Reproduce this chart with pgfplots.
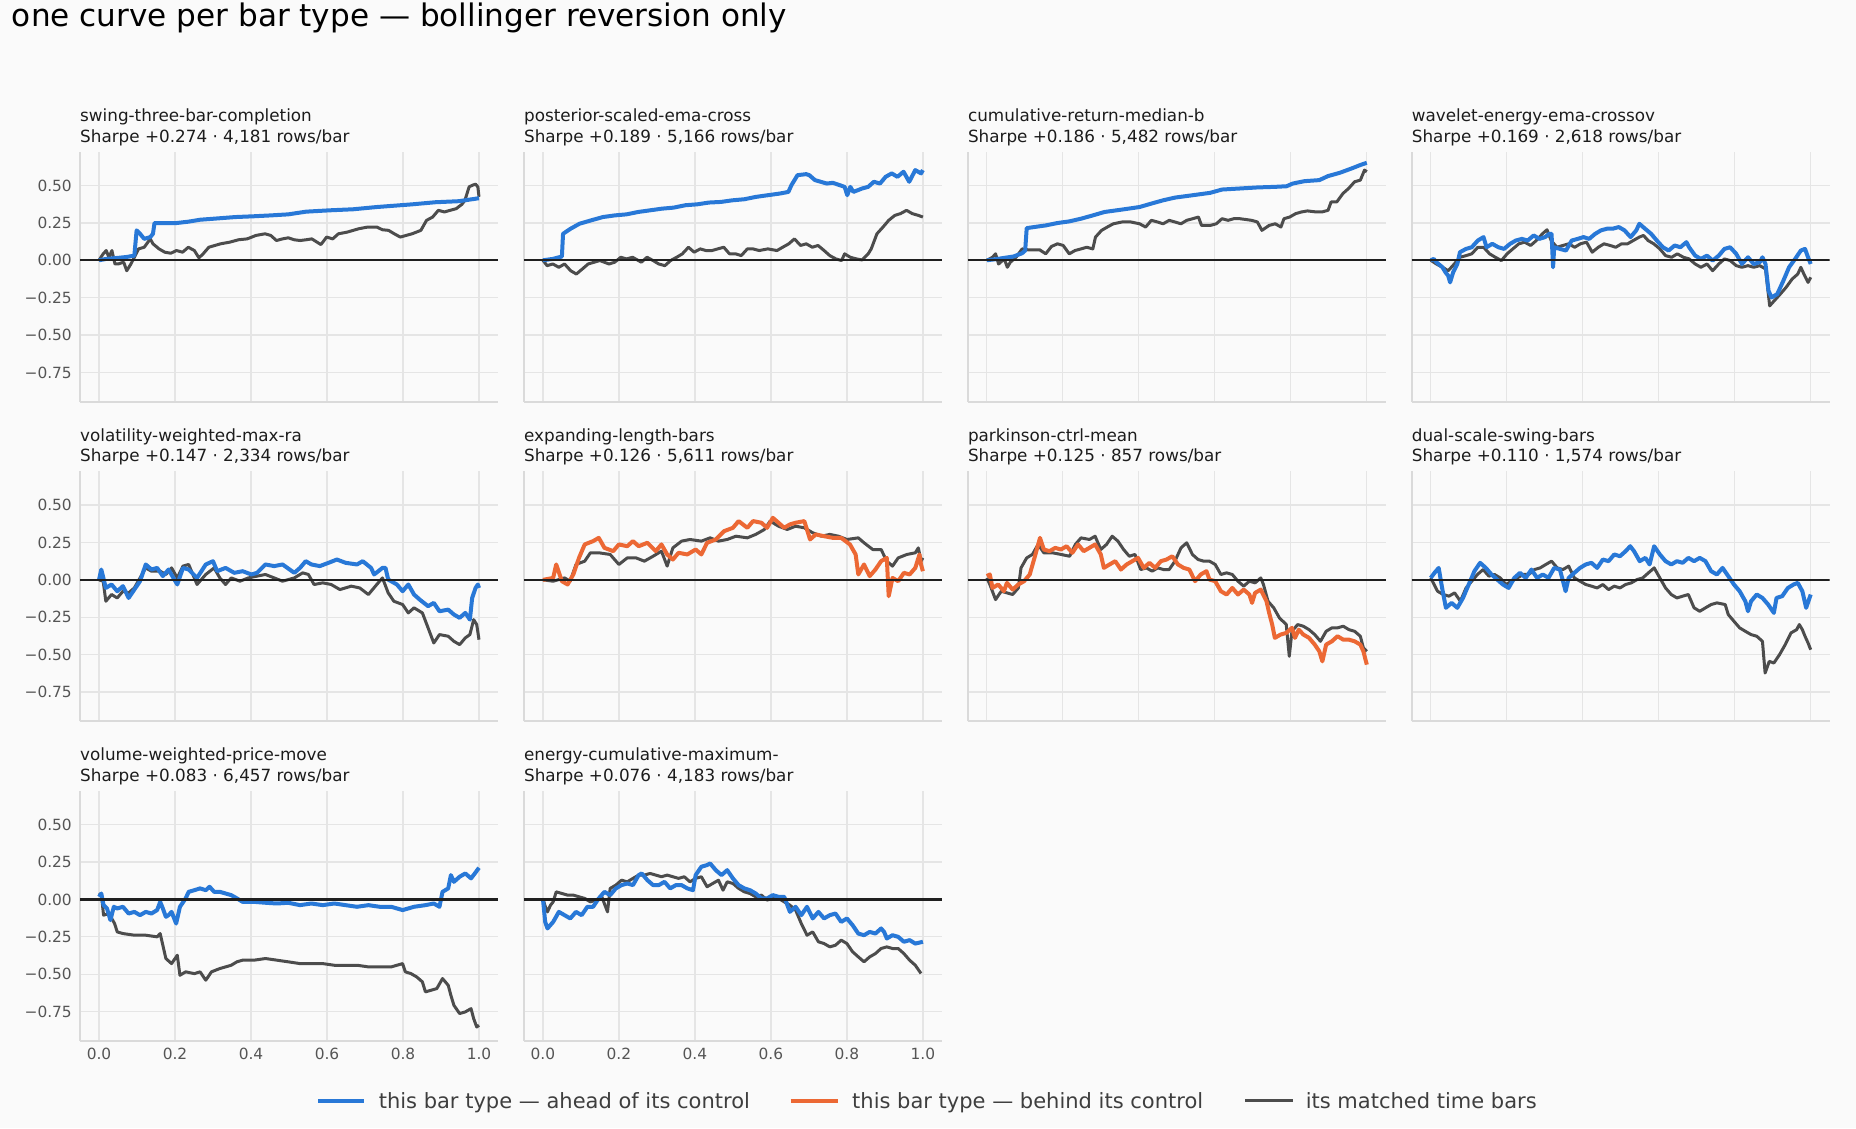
\documentclass[border=0pt]{standalone}
\usepackage{fontspec}
\setmainfont{DejaVu Sans}
\usepackage{pgfplots}
\pgfplotsset{compat=1.18}
\definecolor{bgc}{RGB}{250,250,250}
\definecolor{gridc}{RGB}{229,229,229}
\definecolor{spinec}{RGB}{218,218,218}
\definecolor{tickc}{RGB}{85,85,85}
\definecolor{aheadc}{RGB}{40,120,215}
\definecolor{behindc}{RGB}{236,104,52}
\definecolor{ctrlc}{RGB}{76,76,76}
\definecolor{titlec}{RGB}{28,28,28}
\definecolor{legc}{RGB}{62,62,62}
\pgfplotsset{
 panel/.style={
  scale only axis, width=418pt, height=250pt, anchor=north west,
  xmin=-0.05, xmax=1.05, ymin=-0.946, ymax=0.726,
  xtick={0,0.2,0.4,0.6,0.8,1}, ytick={-0.75,-0.5,-0.25,0,0.25,0.5},
  xticklabels={}, yticklabels={},
  major tick length=0pt, tick style={draw=none},
  xmajorgrids, ymajorgrids,
  major grid style={gridc, line width=1.3pt},
  axis x line*=bottom, axis y line*=left,
  axis line style={-, spinec, line width=1.8pt},
  x axis line style={-}, y axis line style={-},
  tick label style={font=\fontsize{15.4pt}{18pt}\selectfont, text=tickc, inner sep=0pt},
  xticklabel style={anchor=north, yshift=-7pt},
  yticklabel style={anchor=east, xshift=-8pt},
 },
 ylab/.style={yticklabels={−0.75,−0.50,−0.25,0.00,0.25,0.50}},
 xlab/.style={xticklabels={0.0,0.2,0.4,0.6,0.8,1.0}},
 ctrl/.style={ctrlc, line width=3pt, line join=round},
 ahead/.style={aheadc, line width=4pt, line join=round},
 behind/.style={behindc, line width=4pt, line join=round},
 zero/.style={black!88, line width=2.4pt},
}
\newcommand{\ptitle}[4]{%
 \node[anchor=base west, inner sep=0pt, text=titlec, font=\fontsize{16.8pt}{20pt}\selectfont] at (#1pt,{-(#2-30)*1pt}) {#3};
 \node[anchor=base west, inner sep=0pt, text=titlec, font=\fontsize{16.8pt}{20pt}\selectfont] at (#1pt,{-(#2-9.4)*1pt}) {#4};
}
\begin{document}
\begin{tikzpicture}
\useasboundingbox (0,0) rectangle (1856pt,-1128pt);
\fill[bgc] (0,0) rectangle (1856pt,-1128pt);
\node[anchor=base west, inner sep=0pt, text=black, font=\fontsize{31.1pt}{36pt}\selectfont] at (11.8pt,-26pt) {one curve per bar type — bollinger reversion only};

% ---------- panel 1
\begin{axis}[panel, ylab, at={(80pt,-151.7pt)}]
\addplot[ctrl] coordinates {(0,0) (0.011,0.043) (0.019,0.065) (0.026,0.020) (0.034,0.065) (0.042,-0.025) (0.050,-0.025) (0.065,-0.013) (0.073,-0.070) (0.084,-0.025) (0.093,0.020) (0.104,0.076) (0.119,0.087) (0.135,0.143) (0.142,0.110) (0.158,0.076) (0.173,0.054) (0.189,0.047) (0.204,0.065) (0.220,0.054) (0.235,0.087) (0.251,0.065) (0.263,0.016) (0.274,0.043) (0.289,0.087) (0.305,0.099) (0.320,0.110) (0.344,0.121) (0.367,0.137) (0.390,0.143) (0.413,0.166) (0.437,0.177) (0.452,0.166) (0.467,0.132) (0.483,0.143) (0.498,0.150) (0.514,0.137) (0.529,0.132) (0.545,0.137) (0.560,0.143) (0.584,0.105) (0.599,0.155) (0.615,0.143) (0.630,0.177) (0.653,0.188) (0.669,0.200) (0.684,0.211) (0.707,0.222) (0.731,0.222) (0.746,0.204) (0.762,0.200) (0.777,0.177) (0.793,0.155) (0.808,0.166) (0.824,0.177) (0.847,0.200) (0.862,0.267) (0.878,0.289) (0.893,0.334) (0.909,0.323) (0.924,0.334) (0.940,0.345) (0.955,0.374) (0.963,0.401) (0.974,0.491) (0.983,0.502) (0.991,0.509) (0.997,0.491) (1.000,0.424)};
\addplot[ahead] coordinates {(0,0) (0.019,0.009) (0.050,0.016) (0.073,0.022) (0.093,0.031) (0.099,0.200) (0.108,0.177) (0.119,0.143) (0.135,0.155) (0.142,0.177) (0.146,0.249) (0.204,0.249) (0.235,0.258) (0.266,0.271) (0.313,0.280) (0.359,0.289) (0.406,0.294) (0.452,0.300) (0.498,0.307) (0.545,0.325) (0.607,0.334) (0.669,0.341) (0.731,0.356) (0.793,0.368) (0.824,0.374) (0.885,0.388) (0.947,0.395) (1.000,0.415)};
\addplot[zero] coordinates {(-0.05,0) (1.05,0)};
\end{axis}
\ptitle{80}{151.7}{swing-three-bar-completion}{Sharpe +0.274 · 4,181 rows/bar}

% ---------- panel 2
\begin{axis}[panel, at={(523.9pt,-151.7pt)}]
\addplot[ctrl] coordinates {(0,0) (0.011,-0.036) (0.026,-0.025) (0.042,-0.047) (0.057,-0.025) (0.073,-0.070) (0.088,-0.092) (0.104,-0.058) (0.119,-0.025) (0.135,-0.013) (0.150,-0.002) (0.174,-0.025) (0.189,-0.013) (0.205,0.020) (0.220,0.009) (0.236,0.020) (0.259,-0.013) (0.274,0.020) (0.290,-0.002) (0.305,-0.025) (0.321,-0.036) (0.336,-0.002) (0.352,0.020) (0.367,0.043) (0.383,0.087) (0.398,0.054) (0.414,0.076) (0.429,0.065) (0.445,0.065) (0.460,0.076) (0.476,0.087) (0.491,0.043) (0.507,0.043) (0.522,0.031) (0.538,0.076) (0.553,0.076) (0.569,0.065) (0.592,0.076) (0.616,0.065) (0.631,0.087) (0.647,0.110) (0.662,0.143) (0.678,0.099) (0.693,0.110) (0.709,0.087) (0.724,0.099) (0.740,0.065) (0.755,0.031) (0.771,0.009) (0.786,-0.002) (0.794,0.043) (0.809,0.020) (0.825,0.009) (0.840,0.002) (0.856,0.043) (0.864,0.076) (0.879,0.177) (0.895,0.222) (0.910,0.267) (0.926,0.300) (0.941,0.312) (0.957,0.334) (0.972,0.312) (0.988,0.300) (1.000,0.289)};
\addplot[ahead] coordinates {(0,0) (0.026,0.009) (0.050,0.025) (0.053,0.177) (0.073,0.211) (0.096,0.244) (0.127,0.267) (0.158,0.289) (0.189,0.300) (0.220,0.307) (0.251,0.323) (0.282,0.334) (0.313,0.345) (0.344,0.352) (0.375,0.368) (0.406,0.374) (0.437,0.386) (0.468,0.390) (0.499,0.401) (0.530,0.408) (0.561,0.424) (0.592,0.435) (0.623,0.446) (0.646,0.457) (0.654,0.502) (0.670,0.569) (0.693,0.576) (0.701,0.569) (0.716,0.536) (0.747,0.513) (0.763,0.518) (0.794,0.491) (0.801,0.435) (0.809,0.491) (0.817,0.457) (0.840,0.480) (0.856,0.491) (0.871,0.525) (0.887,0.513) (0.902,0.558) (0.918,0.581) (0.933,0.558) (0.949,0.592) (0.964,0.525) (0.980,0.603) (0.995,0.581) (1.000,0.603)};
\addplot[zero] coordinates {(-0.05,0) (1.05,0)};
\end{axis}
\ptitle{523.9}{151.7}{posterior-scaled-ema-cross}{Sharpe +0.189 · 5,166 rows/bar}

% ---------- panel 3
\begin{axis}[panel, at={(967.8pt,-151.7pt)}]
\addplot[ctrl] coordinates {(0,0) (0.015,0.020) (0.023,0.043) (0.031,-0.025) (0.046,0.009) (0.054,-0.047) (0.062,-0.013) (0.077,0.020) (0.093,0.076) (0.108,0.070) (0.139,0.070) (0.155,0.043) (0.170,0.092) (0.186,0.110) (0.201,0.099) (0.217,0.043) (0.232,0.065) (0.248,0.076) (0.263,0.087) (0.279,0.076) (0.286,0.155) (0.302,0.200) (0.317,0.222) (0.333,0.244) (0.356,0.256) (0.379,0.256) (0.402,0.244) (0.418,0.222) (0.433,0.267) (0.449,0.256) (0.464,0.244) (0.480,0.267) (0.495,0.256) (0.511,0.244) (0.526,0.267) (0.542,0.278) (0.557,0.289) (0.565,0.233) (0.588,0.233) (0.604,0.244) (0.619,0.278) (0.635,0.267) (0.650,0.278) (0.666,0.278) (0.697,0.267) (0.712,0.256) (0.724,0.200) (0.743,0.233) (0.759,0.244) (0.774,0.222) (0.782,0.278) (0.797,0.289) (0.813,0.312) (0.828,0.323) (0.844,0.330) (0.867,0.323) (0.882,0.323) (0.898,0.334) (0.906,0.390) (0.921,0.390) (0.937,0.446) (0.952,0.480) (0.968,0.525) (0.983,0.536) (0.994,0.603) (1.000,0.592)};
\addplot[ahead] coordinates {(0,0) (0.023,0.007) (0.046,0.016) (0.070,0.025) (0.093,0.047) (0.101,0.065) (0.105,0.215) (0.124,0.222) (0.155,0.233) (0.186,0.249) (0.217,0.260) (0.248,0.278) (0.279,0.300) (0.310,0.323) (0.356,0.339) (0.402,0.356) (0.433,0.379) (0.464,0.401) (0.495,0.419) (0.542,0.435) (0.588,0.451) (0.619,0.473) (0.666,0.480) (0.712,0.487) (0.759,0.491) (0.789,0.495) (0.805,0.513) (0.836,0.529) (0.875,0.536) (0.898,0.563) (0.929,0.585) (0.960,0.614) (0.983,0.637) (1.000,0.652)};
\addplot[zero] coordinates {(-0.05,0) (1.05,0)};
\end{axis}
\ptitle{967.8}{151.7}{cumulative-return-median-b}{Sharpe +0.186 · 5,482 rows/bar}

% ---------- panel 4
\begin{axis}[panel, at={(1411.7pt,-151.7pt)}]
\addplot[ctrl] coordinates {(0,0) (0.015,-0.025) (0.031,-0.047) (0.046,-0.070) (0.062,-0.025) (0.077,0.020) (0.093,0.031) (0.108,0.043) (0.124,0.087) (0.139,0.087) (0.155,0.043) (0.170,0.020) (0.186,-0.002) (0.201,0.043) (0.216,0.076) (0.232,0.110) (0.247,0.121) (0.263,0.099) (0.278,0.132) (0.294,0.177) (0.306,0.204) (0.317,0.132) (0.332,0.087) (0.348,0.099) (0.363,0.110) (0.379,0.087) (0.394,0.110) (0.410,0.121) (0.425,0.054) (0.441,0.087) (0.456,0.110) (0.472,0.099) (0.487,0.087) (0.502,0.110) (0.518,0.110) (0.533,0.132) (0.549,0.155) (0.560,0.166) (0.572,0.132) (0.587,0.110) (0.603,0.076) (0.618,0.031) (0.634,0.020) (0.649,0.043) (0.665,0.020) (0.680,0.009) (0.696,-0.025) (0.711,-0.047) (0.727,-0.025) (0.742,-0.070) (0.758,-0.025) (0.773,0.009) (0.788,-0.002) (0.804,-0.036) (0.819,-0.047) (0.835,-0.036) (0.850,-0.047) (0.866,-0.036) (0.881,-0.058) (0.892,-0.305) (0.904,-0.271) (0.920,-0.226) (0.935,-0.182) (0.951,-0.126) (0.966,-0.092) (0.974,-0.047) (0.982,-0.092) (0.993,-0.148) (1.000,-0.114)};
\addplot[ahead] coordinates {(0,0) (0.008,0.009) (0.015,-0.013) (0.031,-0.047) (0.039,-0.081) (0.046,-0.103) (0.051,-0.148) (0.059,-0.081) (0.070,-0.025) (0.077,0.054) (0.093,0.076) (0.108,0.087) (0.124,0.132) (0.139,0.155) (0.147,0.087) (0.162,0.110) (0.178,0.087) (0.193,0.076) (0.209,0.110) (0.224,0.132) (0.240,0.143) (0.255,0.132) (0.271,0.166) (0.286,0.143) (0.301,0.155) (0.312,0.177) (0.318,0.177) (0.322,-0.047) (0.325,0.087) (0.340,0.076) (0.356,0.065) (0.371,0.132) (0.387,0.143) (0.402,0.155) (0.417,0.143) (0.433,0.177) (0.448,0.200) (0.464,0.211) (0.479,0.211) (0.495,0.222) (0.510,0.200) (0.526,0.155) (0.541,0.200) (0.549,0.244) (0.564,0.211) (0.580,0.177) (0.595,0.132) (0.611,0.087) (0.626,0.065) (0.642,0.099) (0.657,0.087) (0.673,0.121) (0.680,0.087) (0.696,0.031) (0.711,0.009) (0.727,0.031) (0.742,-0.002) (0.758,0.031) (0.773,0.076) (0.788,0.087) (0.804,0.043) (0.819,-0.025) (0.835,0.020) (0.850,-0.025) (0.866,-0.013) (0.873,0.020) (0.881,-0.025) (0.889,-0.204) (0.897,-0.249) (0.912,-0.226) (0.928,-0.137) (0.943,-0.047) (0.959,0.009) (0.974,0.065) (0.985,0.076) (0.993,0.020) (1.000,-0.025)};
\addplot[zero] coordinates {(-0.05,0) (1.05,0)};
\end{axis}
\ptitle{1411.7}{151.7}{wavelet-energy-ema-crossov}{Sharpe +0.169 · 2,618 rows/bar}

% ---------- panel 5
\begin{axis}[panel, ylab, at={(80pt,-471.3pt)}]
\addplot[ctrl] coordinates {(0,0) (0.011,-0.009) (0.018,-0.143) (0.033,-0.098) (0.048,-0.121) (0.063,-0.076) (0.078,-0.087) (0.093,-0.054) (0.108,0.013) (0.123,0.080) (0.138,0.058) (0.161,0.058) (0.176,0.036) (0.191,0.080) (0.206,0.013) (0.221,0.092) (0.236,0.103) (0.258,-0.031) (0.281,0.036) (0.303,0.080) (0.318,0.013) (0.333,-0.031) (0.348,0.013) (0.371,-0.009) (0.393,0.013) (0.416,0.025) (0.438,0.036) (0.461,0.013) (0.483,-0.009) (0.514,0.013) (0.536,0.047) (0.551,0.036) (0.566,-0.031) (0.589,-0.020) (0.611,-0.031) (0.634,-0.065) (0.664,-0.042) (0.686,-0.054) (0.709,-0.098) (0.731,-0.031) (0.746,0.013) (0.761,-0.087) (0.776,-0.143) (0.799,-0.165) (0.814,-0.221) (0.829,-0.187) (0.851,-0.221) (0.866,-0.321) (0.881,-0.422) (0.896,-0.366) (0.919,-0.377) (0.934,-0.411) (0.949,-0.433) (0.964,-0.388) (0.976,-0.366) (0.986,-0.266) (0.994,-0.299) (1.000,-0.400)};
\addplot[ahead] coordinates {(0,0) (0.006,0.069) (0.018,-0.054) (0.033,-0.031) (0.048,-0.076) (0.063,-0.042) (0.078,-0.121) (0.093,-0.065) (0.108,-0.009) (0.123,0.103) (0.138,0.069) (0.153,0.080) (0.168,0.025) (0.183,0.069) (0.206,-0.031) (0.221,0.080) (0.236,0.069) (0.258,0.013) (0.281,0.103) (0.300,0.125) (0.311,0.058) (0.333,0.080) (0.356,0.047) (0.378,0.058) (0.401,0.036) (0.416,0.047) (0.438,0.103) (0.461,0.092) (0.483,0.103) (0.514,0.047) (0.529,0.080) (0.544,0.125) (0.559,0.103) (0.581,0.092) (0.604,0.114) (0.626,0.136) (0.649,0.114) (0.679,0.103) (0.694,0.125) (0.716,0.080) (0.724,0.036) (0.746,0.080) (0.754,0.080) (0.761,0.002) (0.784,-0.031) (0.799,-0.076) (0.814,-0.031) (0.829,-0.098) (0.844,-0.132) (0.866,-0.176) (0.881,-0.154) (0.896,-0.210) (0.919,-0.199) (0.934,-0.232) (0.949,-0.254) (0.964,-0.221) (0.976,-0.266) (0.982,-0.121) (0.991,-0.054) (0.997,-0.031) (1.000,-0.054)};
\addplot[zero] coordinates {(-0.05,0) (1.05,0)};
\end{axis}
\ptitle{80}{471.3}{volatility-weighted-max-ra}{Sharpe +0.147 · 2,334 rows/bar}

% ---------- panel 6
\begin{axis}[panel, at={(523.9pt,-471.3pt)}]
\addplot[ctrl] coordinates {(0,0) (0.027,-0.009) (0.057,0.013) (0.072,-0.009) (0.087,0.103) (0.110,0.125) (0.125,0.181) (0.147,0.181) (0.177,0.170) (0.200,0.103) (0.222,0.147) (0.245,0.147) (0.267,0.125) (0.290,0.158) (0.312,0.192) (0.327,0.092) (0.342,0.214) (0.365,0.259) (0.387,0.270) (0.417,0.259) (0.440,0.281) (0.462,0.259) (0.485,0.270) (0.508,0.292) (0.538,0.281) (0.560,0.304) (0.583,0.337) (0.598,0.393) (0.620,0.359) (0.643,0.337) (0.665,0.359) (0.688,0.348) (0.710,0.315) (0.733,0.292) (0.755,0.304) (0.778,0.292) (0.800,0.270) (0.830,0.281) (0.845,0.248) (0.868,0.203) (0.890,0.203) (0.905,0.125) (0.920,0.092) (0.935,0.147) (0.958,0.170) (0.980,0.181) (0.988,0.214) (0.995,0.125) (1.000,0.147)};
\addplot[behind] coordinates {(0,0) (0.027,0.013) (0.035,0.103) (0.050,-0.009) (0.065,-0.031) (0.080,0.036) (0.095,0.147) (0.110,0.237) (0.132,0.259) (0.147,0.281) (0.162,0.214) (0.185,0.192) (0.200,0.237) (0.222,0.225) (0.237,0.259) (0.252,0.225) (0.275,0.248) (0.297,0.192) (0.312,0.237) (0.327,0.170) (0.342,0.136) (0.357,0.181) (0.380,0.170) (0.402,0.203) (0.417,0.170) (0.432,0.248) (0.455,0.270) (0.477,0.326) (0.500,0.348) (0.515,0.393) (0.538,0.348) (0.553,0.393) (0.575,0.382) (0.590,0.348) (0.605,0.415) (0.620,0.382) (0.635,0.348) (0.650,0.371) (0.665,0.382) (0.688,0.393) (0.703,0.270) (0.718,0.304) (0.740,0.292) (0.763,0.281) (0.785,0.281) (0.808,0.237) (0.823,0.170) (0.830,0.036) (0.845,0.103) (0.860,0.025) (0.875,0.069) (0.890,0.125) (0.905,0.147) (0.910,-0.109) (0.920,0.013) (0.935,-0.009) (0.950,0.047) (0.965,0.036) (0.980,0.080) (0.991,0.170) (0.995,0.103) (1.000,0.058)};
\addplot[zero] coordinates {(-0.05,0) (1.05,0)};
\end{axis}
\ptitle{523.9}{471.3}{expanding-length-bars}{Sharpe +0.126 · 5,611 rows/bar}

% ---------- panel 7
\begin{axis}[panel, at={(967.8pt,-471.3pt)}]
\addplot[ctrl] coordinates {(0,0.013) (0.008,-0.031) (0.023,-0.132) (0.038,-0.076) (0.053,-0.087) (0.068,-0.098) (0.083,-0.054) (0.090,0.080) (0.105,0.147) (0.120,0.170) (0.135,0.237) (0.150,0.181) (0.173,0.181) (0.195,0.170) (0.218,0.158) (0.233,0.237) (0.248,0.281) (0.270,0.270) (0.285,0.292) (0.300,0.203) (0.315,0.237) (0.330,0.292) (0.345,0.259) (0.360,0.203) (0.375,0.158) (0.390,0.170) (0.405,0.069) (0.420,0.080) (0.435,0.058) (0.450,0.080) (0.465,0.069) (0.480,0.069) (0.495,0.125) (0.511,0.214) (0.526,0.248) (0.541,0.170) (0.556,0.136) (0.571,0.125) (0.586,0.125) (0.601,0.103) (0.616,0.036) (0.631,0.047) (0.646,0.036) (0.661,-0.009) (0.676,-0.042) (0.691,-0.009) (0.706,-0.020) (0.721,0.013) (0.728,-0.031) (0.740,-0.143) (0.755,-0.187) (0.770,-0.254) (0.788,-0.299) (0.796,-0.511) (0.803,-0.344) (0.818,-0.299) (0.833,-0.310) (0.848,-0.333) (0.863,-0.366) (0.878,-0.411) (0.893,-0.344) (0.908,-0.321) (0.923,-0.321) (0.938,-0.310) (0.953,-0.333) (0.968,-0.344) (0.983,-0.377) (0.991,-0.455) (1.000,-0.478)};
\addplot[behind] coordinates {(0,0.025) (0.008,0.036) (0.015,-0.054) (0.030,-0.031) (0.045,-0.076) (0.053,-0.020) (0.068,-0.065) (0.083,-0.031) (0.098,-0.009) (0.113,0.036) (0.128,0.170) (0.140,0.281) (0.150,0.203) (0.165,0.192) (0.180,0.214) (0.195,0.203) (0.210,0.225) (0.225,0.181) (0.240,0.237) (0.255,0.192) (0.270,0.214) (0.285,0.237) (0.300,0.170) (0.308,0.080) (0.323,0.103) (0.338,0.125) (0.353,0.069) (0.368,0.103) (0.383,0.125) (0.398,0.147) (0.413,0.080) (0.428,0.114) (0.443,0.080) (0.458,0.125) (0.473,0.136) (0.488,0.158) (0.503,0.103) (0.518,0.080) (0.533,0.069) (0.548,-0.009) (0.563,0.036) (0.578,0.058) (0.586,0.002) (0.601,-0.009) (0.616,-0.076) (0.631,-0.098) (0.646,-0.054) (0.661,-0.098) (0.676,-0.065) (0.691,-0.098) (0.698,-0.154) (0.706,-0.087) (0.721,-0.065) (0.736,-0.143) (0.743,-0.221) (0.751,-0.299) (0.758,-0.388) (0.773,-0.366) (0.788,-0.355) (0.803,-0.321) (0.811,-0.388) (0.821,-0.333) (0.833,-0.366) (0.848,-0.388) (0.863,-0.433) (0.875,-0.478) (0.883,-0.545) (0.893,-0.433) (0.908,-0.411) (0.923,-0.377) (0.938,-0.400) (0.953,-0.400) (0.968,-0.411) (0.983,-0.433) (0.991,-0.478) (1.000,-0.567)};
\addplot[zero] coordinates {(-0.05,0) (1.05,0)};
\end{axis}
\ptitle{967.8}{471.3}{parkinson-ctrl-mean}{Sharpe +0.125 · 857 rows/bar}

% ---------- panel 8
\begin{axis}[panel, at={(1411.7pt,-471.3pt)}]
\addplot[ctrl] coordinates {(0,0.013) (0.018,-0.076) (0.033,-0.098) (0.048,-0.109) (0.063,-0.087) (0.078,-0.143) (0.093,-0.054) (0.108,-0.009) (0.123,0.036) (0.138,0.069) (0.153,0.025) (0.168,0.036) (0.183,0.013) (0.198,-0.031) (0.213,-0.009) (0.228,0.013) (0.243,0.036) (0.258,0.036) (0.273,0.069) (0.288,0.080) (0.303,0.103) (0.318,0.125) (0.333,0.080) (0.348,0.069) (0.363,0.092) (0.378,0.013) (0.393,-0.009) (0.408,-0.031) (0.423,-0.042) (0.438,-0.054) (0.453,-0.031) (0.468,-0.065) (0.483,-0.042) (0.498,-0.054) (0.513,-0.031) (0.528,-0.020) (0.543,0.002) (0.558,0.013) (0.573,0.047) (0.588,0.080) (0.603,0.013) (0.618,-0.054) (0.633,-0.098) (0.648,-0.121) (0.663,-0.109) (0.678,-0.098) (0.693,-0.187) (0.708,-0.210) (0.723,-0.187) (0.738,-0.165) (0.753,-0.154) (0.775,-0.165) (0.783,-0.232) (0.798,-0.277) (0.813,-0.321) (0.828,-0.344) (0.843,-0.366) (0.858,-0.377) (0.873,-0.411) (0.880,-0.623) (0.891,-0.545) (0.903,-0.556) (0.918,-0.500) (0.933,-0.433) (0.948,-0.355) (0.963,-0.333) (0.970,-0.299) (0.978,-0.333) (0.985,-0.377) (0.993,-0.422) (1.000,-0.467)};
\addplot[ahead] coordinates {(0,0.013) (0.010,0.047) (0.021,0.080) (0.030,-0.054) (0.040,-0.187) (0.055,-0.154) (0.070,-0.187) (0.085,-0.121) (0.100,-0.031) (0.115,0.058) (0.130,0.114) (0.145,0.080) (0.160,0.036) (0.175,0.002) (0.190,-0.031) (0.205,-0.054) (0.220,0.013) (0.235,0.047) (0.250,0.013) (0.265,0.069) (0.280,0.013) (0.295,0.036) (0.310,0.013) (0.325,0.080) (0.340,0.069) (0.355,-0.076) (0.363,0.013) (0.378,0.047) (0.393,0.080) (0.408,0.103) (0.423,0.114) (0.438,0.080) (0.453,0.136) (0.468,0.125) (0.483,0.170) (0.498,0.158) (0.513,0.192) (0.525,0.225) (0.535,0.192) (0.550,0.125) (0.565,0.147) (0.576,0.103) (0.588,0.225) (0.603,0.170) (0.618,0.125) (0.633,0.103) (0.648,0.125) (0.663,0.114) (0.678,0.147) (0.693,0.125) (0.708,0.147) (0.723,0.125) (0.738,0.058) (0.753,0.036) (0.768,0.080) (0.783,0.025) (0.798,-0.031) (0.813,-0.076) (0.828,-0.143) (0.835,-0.210) (0.843,-0.143) (0.858,-0.098) (0.873,-0.121) (0.888,-0.165) (0.903,-0.221) (0.910,-0.121) (0.925,-0.109) (0.940,-0.054) (0.955,-0.031) (0.966,-0.020) (0.978,-0.076) (0.988,-0.187) (1.000,-0.098)};
\addplot[zero] coordinates {(-0.05,0) (1.05,0)};
\end{axis}
\ptitle{1411.7}{471.3}{dual-scale-swing-bars}{Sharpe +0.110 · 1,574 rows/bar}

% ---------- panel 9
\begin{axis}[panel, ylab, xlab, at={(80pt,-790.9pt)}]
\addplot[ctrl] coordinates {(0,0.029) (0.006,0.040) (0.012,-0.105) (0.026,-0.094) (0.041,-0.161) (0.048,-0.217) (0.063,-0.228) (0.093,-0.239) (0.123,-0.239) (0.153,-0.250) (0.161,-0.228) (0.168,-0.306) (0.176,-0.395) (0.191,-0.429) (0.206,-0.373) (0.213,-0.507) (0.228,-0.484) (0.251,-0.496) (0.266,-0.484) (0.281,-0.540) (0.296,-0.484) (0.318,-0.462) (0.348,-0.440) (0.363,-0.417) (0.378,-0.406) (0.408,-0.406) (0.438,-0.395) (0.468,-0.406) (0.498,-0.417) (0.529,-0.429) (0.559,-0.429) (0.589,-0.429) (0.619,-0.440) (0.649,-0.440) (0.679,-0.440) (0.709,-0.451) (0.739,-0.451) (0.769,-0.451) (0.799,-0.429) (0.806,-0.484) (0.821,-0.496) (0.836,-0.518) (0.851,-0.551) (0.859,-0.618) (0.874,-0.607) (0.889,-0.596) (0.904,-0.529) (0.919,-0.574) (0.926,-0.641) (0.934,-0.708) (0.949,-0.763) (0.964,-0.752) (0.979,-0.730) (0.986,-0.797) (0.994,-0.853) (1.000,-0.841)};
\addplot[ahead] coordinates {(0,0.018) (0.006,0.040) (0.012,-0.038) (0.021,-0.060) (0.030,-0.138) (0.039,-0.049) (0.048,-0.060) (0.063,-0.049) (0.078,-0.094) (0.093,-0.083) (0.108,-0.105) (0.123,-0.083) (0.138,-0.094) (0.153,-0.071) (0.161,-0.016) (0.168,-0.060) (0.176,-0.116) (0.183,-0.105) (0.191,-0.083) (0.203,-0.161) (0.213,-0.049) (0.228,0.007) (0.236,0.051) (0.251,0.062) (0.266,0.074) (0.281,0.062) (0.291,0.085) (0.303,0.051) (0.318,0.051) (0.333,0.040) (0.348,0.029) (0.363,0.007) (0.378,-0.016) (0.408,-0.016) (0.438,-0.022) (0.468,-0.027) (0.498,-0.022) (0.529,-0.038) (0.559,-0.027) (0.589,-0.038) (0.619,-0.027) (0.649,-0.038) (0.679,-0.049) (0.709,-0.038) (0.739,-0.049) (0.769,-0.049) (0.799,-0.071) (0.829,-0.049) (0.859,-0.038) (0.881,-0.027) (0.896,-0.049) (0.904,0.051) (0.919,0.074) (0.926,0.163) (0.934,0.118) (0.949,0.152) (0.964,0.174) (0.979,0.141) (0.989,0.174) (1.000,0.212)};
\addplot[zero] coordinates {(-0.05,0) (1.05,0)};
\end{axis}
\ptitle{80}{790.9}{volume-weighted-price-move}{Sharpe +0.083 · 6,457 rows/bar}

% ---------- panel 10
\begin{axis}[panel, xlab, at={(523.9pt,-790.9pt)}]
\addplot[ctrl] coordinates {(0,0.007) (0.005,-0.038) (0.012,-0.083) (0.020,-0.038) (0.027,-0.016) (0.035,0.051) (0.050,0.040) (0.065,0.029) (0.080,0.029) (0.095,0.018) (0.110,0.007) (0.125,-0.016) (0.140,-0.004) (0.155,0.018) (0.170,-0.083) (0.177,0.074) (0.192,0.096) (0.207,0.129) (0.222,0.118) (0.237,0.141) (0.252,0.163) (0.267,0.163) (0.282,0.174) (0.297,0.163) (0.312,0.152) (0.327,0.163) (0.342,0.152) (0.357,0.141) (0.372,0.152) (0.387,0.118) (0.402,0.141) (0.417,0.152) (0.432,0.085) (0.447,0.107) (0.462,0.129) (0.474,0.062) (0.485,0.118) (0.500,0.107) (0.515,0.074) (0.530,0.051) (0.545,0.040) (0.560,0.018) (0.575,0.029) (0.590,-0.004) (0.605,0.007) (0.620,0.007) (0.635,-0.016) (0.650,-0.038) (0.665,-0.071) (0.680,-0.161) (0.695,-0.239) (0.710,-0.217) (0.725,-0.283) (0.740,-0.295) (0.755,-0.317) (0.770,-0.306) (0.785,-0.272) (0.800,-0.295) (0.815,-0.350) (0.830,-0.384) (0.845,-0.417) (0.860,-0.384) (0.875,-0.362) (0.890,-0.328) (0.905,-0.317) (0.920,-0.328) (0.935,-0.328) (0.950,-0.362) (0.965,-0.406) (0.980,-0.440) (0.995,-0.495)};
\addplot[ahead] coordinates {(0,0.007) (0.006,-0.150) (0.012,-0.194) (0.027,-0.150) (0.042,-0.083) (0.057,-0.105) (0.072,-0.127) (0.087,-0.083) (0.102,-0.105) (0.117,-0.049) (0.132,-0.049) (0.147,0.007) (0.162,0.051) (0.177,0.029) (0.192,0.074) (0.207,0.096) (0.222,0.107) (0.237,0.096) (0.252,0.163) (0.260,0.174) (0.275,0.129) (0.290,0.096) (0.305,0.096) (0.320,0.118) (0.335,0.074) (0.350,0.096) (0.365,0.096) (0.380,0.074) (0.395,0.062) (0.402,0.163) (0.417,0.219) (0.432,0.230) (0.440,0.241) (0.455,0.196) (0.470,0.163) (0.485,0.196) (0.500,0.141) (0.515,0.096) (0.530,0.074) (0.545,0.062) (0.560,0.040) (0.575,0.007) (0.590,0.007) (0.605,0.029) (0.620,0.018) (0.635,0.018) (0.650,-0.083) (0.665,-0.049) (0.680,-0.105) (0.695,-0.049) (0.710,-0.127) (0.725,-0.083) (0.740,-0.127) (0.755,-0.105) (0.770,-0.094) (0.785,-0.150) (0.800,-0.127) (0.815,-0.172) (0.830,-0.228) (0.845,-0.239) (0.860,-0.217) (0.875,-0.228) (0.890,-0.194) (0.898,-0.217) (0.905,-0.261) (0.920,-0.239) (0.935,-0.250) (0.950,-0.283) (0.965,-0.272) (0.980,-0.295) (1.000,-0.283)};
\addplot[zero] coordinates {(-0.05,0) (1.05,0)};
\end{axis}
\ptitle{523.9}{790.9}{energy-cumulative-maximum-}{Sharpe +0.076 · 4,183 rows/bar}

% ---------- legend
\draw[aheadc, line width=4pt] (318pt,-1100.8pt) -- (364pt,-1100.8pt);
\node[anchor=base west, inner sep=0pt, text=legc, font=\fontsize{21pt}{25pt}\selectfont] at (378.6pt,-1108pt) {this bar type — ahead of its control};
\draw[behindc, line width=4pt] (790.7pt,-1100.8pt) -- (838pt,-1100.8pt);
\node[anchor=base west, inner sep=0pt, text=legc, font=\fontsize{21pt}{25pt}\selectfont] at (852pt,-1108pt) {this bar type — behind its control};
\draw[ctrlc, line width=3pt] (1245pt,-1100.8pt) -- (1292.6pt,-1100.8pt);
\node[anchor=base west, inner sep=0pt, text=legc, font=\fontsize{21pt}{25pt}\selectfont] at (1305.6pt,-1108pt) {its matched time bars};
\end{tikzpicture}
\end{document}
